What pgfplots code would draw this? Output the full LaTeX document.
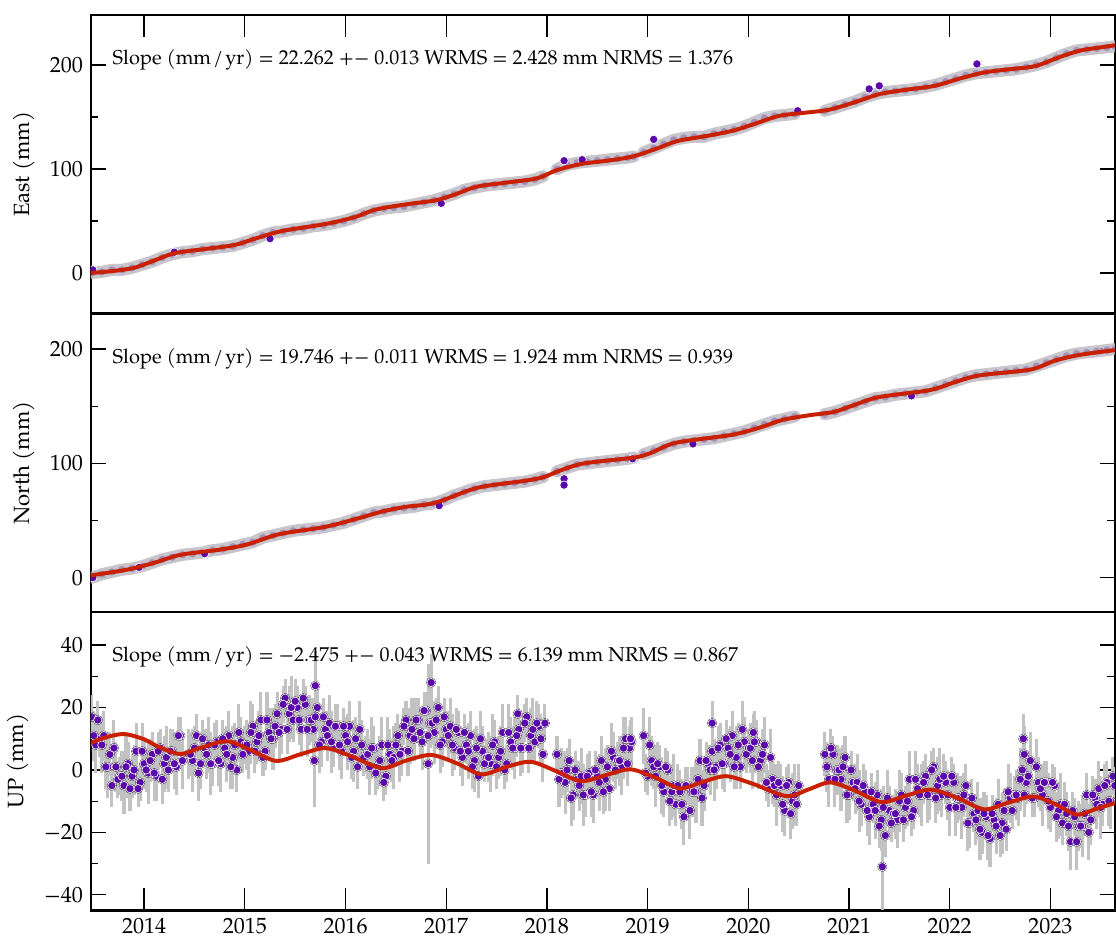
\documentclass[border=0pt]{standalone}
\usepackage{fontspec}
\setmainfont{TeX Gyre Pagella}
\usepackage{pgfplots}
\usepackage{pgfplotstable}
\pgfplotsset{compat=1.18}
\usepgfplotslibrary{groupplots}

\definecolor{dotpurple}{RGB}{90,8,170}
\definecolor{modelred}{RGB}{200,32,0}
\definecolor{barsgray}{RGB}{194,194,194}
\definecolor{bandgray}{RGB}{184,182,190}

% East series (t, mm), nan = data gap
\pgfplotstableread{
t v
2013.48 0
2013.58 1
2013.68 3
2013.78 3
2013.88 5
2013.98 8
2014.08 11
2014.18 15
2014.28 18
2014.38 20
2014.48 21
2014.58 23
2014.68 24
2014.78 25
2014.88 26
2014.98 29
2015.08 32
2015.18 36
2015.28 39
2015.38 40
2015.48 42
2015.58 43
2015.68 45
2015.78 46
2015.88 48
2015.98 50
2016.08 53
2016.18 57
2016.28 60
2016.38 62
2016.48 63
2016.58 64
2016.68 66
2016.78 68
2016.88 70
2016.98 73
2017.08 76
2017.18 80
2017.28 82
2017.38 84
2017.48 85
2017.58 86
2017.68 87
2017.78 88
2017.88 90
2017.96 93
2018.03 nan
2018.10 100
2018.20 104
2018.30 106
2018.40 107
2018.50 108
2018.60 109
2018.70 110
2018.80 111
2018.86 112
2018.91 nan
2018.96 116
2019.06 120
2019.16 124
2019.26 128
2019.36 130
2019.46 131
2019.56 131
2019.66 134
2019.76 136
2019.86 138
2019.96 141
2020.06 145
2020.16 149
2020.26 151
2020.36 152
2020.46 153
2020.60 nan
2020.76 156
2020.86 159
2020.96 162
2021.06 165
2021.16 169
2021.26 172
2021.36 174
2021.46 175
2021.56 176
2021.66 177
2021.76 179
2021.86 181
2021.96 184
2022.06 187
2022.16 190
2022.26 192
2022.36 193
2022.46 194
2022.56 195
2022.66 196
2022.76 198
2022.86 200
2022.96 203
2023.06 207
2023.16 211
2023.26 214
2023.36 215
2023.46 216
2023.56 217
2023.64 218
}\eastdata

% North series
\pgfplotstableread{
t v
2013.48 0
2013.58 3
2013.68 5
2013.78 7
2013.88 8
2013.98 10
2014.08 13
2014.18 16
2014.28 18
2014.38 20
2014.48 21
2014.58 22
2014.68 24
2014.78 25
2014.88 27
2014.98 29
2015.08 31
2015.18 35
2015.28 37
2015.38 39
2015.48 41
2015.58 42
2015.68 43
2015.78 44
2015.88 46
2015.98 48
2016.08 51
2016.18 54
2016.28 57
2016.38 58
2016.48 60
2016.58 61
2016.68 62
2016.78 64
2016.88 65
2016.98 68
2017.08 72
2017.18 75
2017.28 78
2017.38 80
2017.48 81
2017.58 82
2017.68 83
2017.78 84
2017.88 86
2017.96 88
2018.03 nan
2018.10 93
2018.20 96
2018.30 99
2018.40 100
2018.50 101
2018.60 102
2018.70 103
2018.80 104
2018.86 105
2018.91 nan
2018.96 108
2019.06 111
2019.16 114
2019.26 117
2019.36 119
2019.46 120
2019.56 121
2019.66 122
2019.76 124
2019.86 126
2019.96 128
2020.06 131
2020.16 134
2020.26 137
2020.36 139
2020.46 141
2020.60 nan
2020.76 143
2020.86 145
2020.96 148
2021.06 151
2021.16 154
2021.26 157
2021.36 158
2021.46 160
2021.56 161
2021.66 162
2021.76 163
2021.86 166
2021.96 169
2022.06 172
2022.16 175
2022.26 177
2022.36 178
2022.46 179
2022.56 180
2022.66 181
2022.76 182
2022.86 185
2022.96 188
2023.06 191
2023.16 194
2023.26 196
2023.36 197
2023.46 198
2023.56 199
2023.64 200
}\northdata

% Up series: time, value, error
\pgfplotstableread{
t u e
2013.48 17 7
2013.52 8 9
2013.56 10 6
2013.60 11 8
2013.64 1 10
2013.68 -5 7
2013.72 1 8
2013.76 -2 6
2013.80 -5 9
2013.84 2 7
2013.88 -2 7
2013.92 6 9
2013.96 -4 6
2014.00 2 8
2014.04 -1 10
2014.08 5 7
2014.12 -2 8
2014.16 7 6
2014.20 2 9
2014.24 0 7
2014.28 6 7
2014.32 1 9
2014.36 11 6
2014.44 5 8
2014.48 3 10
2014.52 11 7
2014.56 2 8
2014.60 7 6
2014.64 8 9
2014.68 2 7
2014.72 9 7
2014.76 2 9
2014.80 7 6
2014.84 11 8
2014.88 4 10
2014.92 0 7
2014.96 9 8
2015.00 8 6
2015.04 6 9
2015.08 14 7
2015.12 9 7
2015.16 16 9
2015.20 6 6
2015.24 12 8
2015.28 10 10
2015.32 18 7
2015.36 13 8
2015.40 23 6
2015.44 18 9
2015.48 16 7
2015.52 20 7
2015.56 13 9
2015.60 21 6
2015.64 16 8
2015.68 13 10
2015.72 20 7
2015.76 9 8
2015.80 13 6
2015.84 15 9
2015.88 8 7
2015.92 14 7
2015.96 6 9
2016.00 11 6
2016.04 14 8
2016.08 6 10
2016.12 1 7
2016.16 8 8
2016.20 5 6
2016.24 1 9
2016.28 7 7
2016.32 1 7
2016.36 8 9
2016.40 -2 6
2016.44 5 8
2016.48 4 10
2016.52 11 7
2016.56 6 8
2016.60 16 6
2016.64 11 9
2016.68 10 7
2016.72 16 7
2016.76 9 9
2016.80 19 6
2016.84 15 8
2016.88 12 10
2016.92 20 7
2016.96 9 8
2017.00 13 6
2017.04 14 9
2017.08 7 7
2017.12 12 7
2017.16 4 9
2017.20 8 6
2017.24 11 8
2017.28 3 10
2017.32 -2 7
2017.36 6 8
2017.40 4 6
2017.44 2 9
2017.48 9 7
2017.52 4 7
2017.56 12 9
2017.60 2 6
2017.64 9 8
2017.68 7 10
2017.72 13 7
2017.76 7 8
2017.80 17 6
2017.84 11 9
2017.88 9 7
2017.92 14 7
2017.96 5 9
2018.10 5 6
2018.14 -1 8
2018.18 -4 10
2018.22 3 7
2018.26 -8 8
2018.30 -3 6
2018.34 -2 9
2018.38 -8 7
2018.42 -1 7
2018.46 -8 9
2018.50 -2 6
2018.54 3 8
2018.58 -3 10
2018.62 -6 7
2018.66 4 8
2018.70 3 6
2018.74 1 9
2018.78 10 7
2018.82 7 7
2018.96 11 9
2019.00 -2 6
2019.04 3 8
2019.08 -2 10
2019.12 1 7
2019.16 -7 8
2019.20 0 6
2019.24 -7 9
2019.28 -11 7
2019.32 -7 7
2019.36 -15 9
2019.40 -5 6
2019.44 -7 8
2019.48 -7 10
2019.52 3 7
2019.56 -5 8
2019.60 2 6
2019.64 6 9
2019.68 1 7
2019.72 8 7
2019.76 2 9
2019.80 7 6
2019.84 11 8
2019.88 4 10
2019.92 1 7
2019.96 9 8
2020.00 7 6
2020.04 3 9
2020.08 9 7
2020.12 3 7
2020.16 8 9
2020.20 -6 6
2020.24 -3 8
2020.28 -8 10
2020.32 -5 7
2020.36 -13 8
2020.40 -4 6
2020.44 -10 9
2020.48 -11 7
2020.76 5 7
2020.80 -3 9
2020.84 5 6
2020.88 0 8
2020.92 -3 10
2020.96 4 7
2021.00 -8 8
2021.04 -4 6
2021.08 -4 9
2021.12 -11 7
2021.16 -7 7
2021.20 -15 9
2021.24 -11 6
2021.28 -8 8
2021.32 -16 10
2021.36 -21 7
2021.40 -13 8
2021.44 -14 6
2021.48 -16 9
2021.52 -8 7
2021.56 -12 7
2021.60 -3 9
2021.64 -13 6
2021.68 -6 8
2021.72 -8 10
2021.76 -2 7
2021.80 -8 8
2021.84 1 6
2021.88 -5 9
2021.92 -8 7
2021.96 -4 7
2022.00 -12 9
2022.04 -4 6
2022.08 -9 8
2022.12 -12 10
2022.16 -5 7
2022.20 -17 8
2022.24 -14 6
2022.28 -13 9
2022.32 -20 7
2022.36 -15 7
2022.40 -22 9
2022.44 -16 6
2022.48 -11 8
2022.52 -17 10
2022.56 -19 7
2022.60 -9 8
2022.64 -8 6
2022.68 -9 9
2022.72 0 7
2022.76 -4 7
2022.80 3 9
2022.84 -9 6
2022.88 -4 8
2022.92 -8 10
2022.96 -4 7
2023.00 -12 8
2023.04 -5 6
2023.08 -13 9
2023.12 -17 7
2023.16 -14 7
2023.20 -23 9
2023.24 -15 6
2023.28 -18 8
2023.32 -18 10
2023.36 -8 7
2023.40 -16 8
2023.44 -9 6
2023.48 -6 9
2023.52 -11 7
2023.56 -4 7
2023.60 -10 9
2023.64 -5 6
2013.50 11 8
2013.54 16 6
2013.58 8 9
2013.62 1 7
2013.66 5 7
2013.70 7 9
2013.74 -3 6
2013.78 -2 8
2013.82 1 10
2013.86 -6 7
2013.90 0 8
2013.94 -6 6
2013.98 6 9
2014.02 0 7
2014.06 3 7
2014.10 -1 9
2014.14 6 6
2014.18 -3 8
2014.22 4 10
2014.26 6 7
2014.30 2 8
2014.34 11 6
2014.38 3 9
2014.46 5 7
2014.50 7 7
2014.54 -1 9
2014.58 10 6
2014.62 5 8
2014.66 2 10
2014.70 8 7
2014.74 3 8
2014.78 10 6
2014.82 5 9
2014.86 1 7
2014.90 8 7
2014.94 12 9
2014.98 5 6
2015.02 8 8
2015.06 12 10
2015.10 6 7
2015.14 11 8
2015.18 4 6
2015.22 16 9
2015.26 10 7
2015.30 14 7
2015.34 12 9
2015.38 21 6
2015.42 13 8
2015.46 20 10
2015.50 22 7
2015.54 16 8
2015.58 23 6
2015.62 13 9
2015.66 16 7
2015.70 17 7
2015.74 8 9
2015.78 17 6
2015.82 11 8
2015.86 9 10
2015.90 14 7
2015.94 8 8
2015.98 14 6
2016.02 9 9
2016.06 4 7
2016.10 10 7
2016.14 13 9
2016.18 4 6
2016.22 5 8
2016.26 7 10
2016.30 -1 7
2016.34 3 8
2016.38 -4 6
2016.42 8 9
2016.46 3 7
2016.50 8 7
2016.54 5 9
2016.58 14 6
2016.62 6 8
2016.66 13 10
2016.70 16 7
2016.74 12 8
2016.78 19 6
2016.82 11 9
2016.86 15 7
2016.90 16 7
2016.94 8 9
2016.98 17 6
2017.02 11 8
2017.06 8 10
2017.10 13 7
2017.14 6 8
2017.18 12 6
2017.22 6 9
2017.26 1 7
2017.30 7 7
2017.34 10 9
2017.38 2 6
2017.42 4 8
2017.46 8 10
2017.50 1 7
2017.54 6 8
2017.58 0 6
2017.62 12 9
2017.66 7 7
2017.70 11 7
2017.74 7 9
2017.78 15 6
2017.82 7 8
2017.86 13 10
2017.90 15 7
2017.94 10 8
2017.98 15 6
2018.12 -3 9
2018.16 -1 7
2018.20 0 7
2018.24 -9 9
2018.28 0 6
2018.32 -5 8
2018.36 -8 10
2018.40 -2 7
2018.44 -7 8
2018.48 0 6
2018.52 -4 9
2018.56 -7 7
2018.60 1 7
2018.64 6 9
2018.68 0 6
2018.72 3 8
2018.76 7 10
2018.80 2 7
2018.84 9 8
2018.98 -1 6
2019.02 8 9
2019.06 1 7
2019.10 2 7
2019.14 -5 9
2019.18 1 6
2019.22 -10 8
2019.26 -5 10
2019.30 -5 7
2019.34 -11 8
2019.38 -5 6
2019.42 -13 9
2019.46 -7 7
2019.50 -3 7
2019.54 -9 9
2019.58 3 6
2019.62 0 8
2019.66 0 10
2019.70 7 7
2019.74 2 8
2019.78 10 6
2019.82 5 9
2019.86 1 7
2019.90 8 7
2019.94 13 9
2019.98 5 6
2020.02 7 8
2020.06 9 10
2020.10 1 7
2020.14 5 8
2020.18 -4 6
2020.22 4 9
2020.26 -5 7
2020.30 -4 7
2020.34 -11 9
2020.38 -5 6
2020.42 -14 8
2020.46 -8 10
2020.50 -5 7
2020.78 1 8
2020.82 7 6
2020.86 -3 9
2020.90 0 7
2020.94 1 7
2020.98 -8 9
2021.02 0 6
2021.06 -6 8
2021.10 -10 10
2021.14 -5 7
2021.18 -13 8
2021.22 -7 6
2021.26 -13 9
2021.30 -18 7
2021.34 -12 7
2021.38 -9 9
2021.42 -17 6
2021.46 -14 8
2021.50 -10 10
2021.54 -16 7
2021.58 -10 8
2021.62 -15 6
2021.66 -3 9
2021.70 -8 7
2021.74 -4 7
2021.78 -8 9
2021.82 0 6
2021.86 -9 8
2021.90 -3 10
2021.94 -2 7
2021.98 -8 8
2022.02 -2 6
2022.06 -12 9
2022.10 -9 7
2022.14 -8 7
2022.18 -17 9
2022.22 -9 6
2022.26 -16 8
2022.30 -19 10
2022.34 -14 7
2022.38 -21 8
2022.42 -14 6
2022.46 -18 9
2022.50 -21 7
2022.54 -13 7
2022.58 -7 9
2022.62 -13 6
2022.66 -8 8
2022.70 -3 10
2022.74 -8 7
2022.78 -2 8
2022.82 -9 6
2022.86 1 9
2022.90 -6 7
2022.94 -4 7
2022.98 -10 9
2023.02 -4 6
2023.06 -15 8
2023.10 -11 10
2023.14 -11 7
2023.18 -18 8
2023.22 -13 6
2023.26 -23 9
2023.30 -18 7
2023.34 -14 7
2023.38 -20 9
2023.42 -8 6
2023.46 -11 8
2023.50 -12 10
2023.54 -5 7
2023.58 -10 8
2023.62 -2 6
2015.70 27 11
2015.69 3 15
2016.85 28 9
2016.82 2 32
2017.71 18 6
2019.64 15 7
2021.33 -31 14
2022.73 10 8
2022.74 5 9
2018.83 10 6
2020.05 12 6
}\updata

\pgfplotsset{
  gps/.style={
    width=465pt, height=135.5pt, scale only axis,
    xmin=2013.47, xmax=2023.64,
    xtick={2014,2015,...,2023},
    minor x tick num=0,
    tick align=inside,
    major tick length=10pt, minor tick length=3.5pt,
    ytick pos=both,
    axis line style={line width=1pt},
    tick style={line width=0.6pt, black},
    y tick style={dash pattern=on 6.8pt off 30pt},
    xticklabel={\pgfmathtruncatemacro\tmpv{round(\tick)}\tmpv},
    yticklabel={\pgfmathtruncatemacro\tmpv{round(\tick)}\ifnum\tmpv<0 −\pgfmathtruncatemacro\tmpw{-\tmpv}\tmpw\else\tmpv\fi},
    unbounded coords=jump,
    clip marker paths=true,
  },
  dots/.style={only marks, mark=*, mark size=1.9pt,
    mark options={fill=dotpurple, draw=white, line width=0.3pt}},
  band/.style={bandgray, line width=5.5pt, opacity=0.78, line join=round, line cap=round},
  model/.style={modelred, line width=1.8pt, smooth, mark=none},
}
\tikzset{note/.style={anchor=north west, inner sep=0pt, font=\fontsize{9.1}{11}\selectfont}}

\begin{document}
\begin{tikzpicture}
\begin{groupplot}[group style={group size=1 by 3, vertical sep=0pt}, gps]

\nextgroupplot[ymin=-39, ymax=248, ytick={0,100,200}, minor ytick={50,150},
  xtick pos=right, xticklabels={}, ylabel={East (mm)}]
\addplot[dots] table[x=t, y=v] {\eastdata};
\addplot[band] table[x=t, y=v] {\eastdata};
\addplot[dots] coordinates {(2013.49,3) (2014.30,20) (2015.25,33) (2016.95,67) (2018.17,108) (2018.35,109) (2019.06,128.5) (2020.49,156) (2021.20,177) (2021.30,180) (2022.27,201)};
\addplot[model] coordinates {
(2013.47,0) (2013.7,2) (2013.9,5) (2014.1,12) (2014.3,19) (2014.6,23) (2014.9,27)
(2015.1,33) (2015.35,40) (2015.6,44) (2015.85,48) (2016.1,54) (2016.3,61) (2016.6,66)
(2016.9,70) (2017.1,76) (2017.3,83) (2017.6,87) (2017.9,91) (2018.1,99) (2018.35,105)
(2018.6,108) (2018.85,112) (2019.1,120) (2019.3,127) (2019.6,132) (2019.85,137)
(2020.05,143) (2020.3,151) (2020.55,154) (2020.8,157) (2021.05,164) (2021.3,172)
(2021.55,176) (2021.85,180) (2022.1,187) (2022.35,193) (2022.6,196) (2022.85,199)
(2023.1,208) (2023.3,214) (2023.5,217) (2023.64,219)};
\node[note] at (rel axis cs:0.021,0.885)
  {Slope (mm\kern1pt/\kern1pt yr) = 22.262 +− 0.013 WRMS = 2.428 mm NRMS = 1.376};

\nextgroupplot[ymin=-30, ymax=231, ytick={0,100,200}, minor ytick={50,150},
  xtick=\empty, ylabel={North (mm)}]
\addplot[dots] table[x=t, y=v] {\northdata};
\addplot[band] table[x=t, y=v] {\northdata};
\addplot[dots] coordinates {(2013.49,0) (2013.95,9) (2014.6,21) (2016.93,63) (2018.17,86.5) (2018.17,81) (2018.85,104) (2019.45,117) (2021.62,159)};
\addplot[model] coordinates {
(2013.47,2) (2013.83,7) (2014.1,13) (2014.36,20) (2014.75,24.5) (2015.02,29) (2015.34,38)
(2015.8,44.5) (2016.13,52) (2016.37,58) (2016.6,62) (2016.89,65.5) (2017.31,78.6)
(2017.78,84.7) (2017.97,88) (2018.14,94) (2018.37,100) (2018.86,105) (2019.03,109)
(2019.28,118) (2019.84,125) (2020.14,132) (2020.34,138) (2020.6,142) (2020.85,145)
(2021.05,151) (2021.3,158) (2021.8,164) (2022.05,171) (2022.3,177) (2022.8,182)
(2023.05,190) (2023.3,195) (2023.64,199)};
\node[note] at (rel axis cs:0.021,0.885)
  {Slope (mm\kern1pt/\kern1pt yr) = 19.746 +− 0.011 WRMS = 1.924 mm NRMS = 0.939};

\nextgroupplot[ymin=-45, ymax=50.6, ytick={-40,-20,0,20,40}, minor ytick={-30,-10,10,30},
  xtick pos=left, ylabel={UP (mm)}]
\addplot[only marks, mark=none, error bars/.cd, y dir=both, y explicit, error mark=none,
  error bar style={draw=barsgray, line width=1.4pt}] table[x=t, y=u, y error=e] {\updata};
\addplot[dots] table[x=t, y=u] {\updata};
\addplot[model] coordinates {
(2013.47,8.6) (2013.6,10.3) (2013.8,11.5) (2014.0,9.8) (2014.15,7.3) (2014.36,5.1)
(2014.55,7.0) (2014.82,9.2) (2015.05,6.5) (2015.31,2.9) (2015.55,5.0) (2015.80,7.0)
(2016.05,4.5) (2016.36,0.6) (2016.6,3.0) (2016.85,4.8) (2017.1,2.2) (2017.35,-1.4)
(2017.6,1.0) (2017.84,2.6) (2018.1,-0.5) (2018.34,-3.6) (2018.6,-1.5) (2018.83,0.2)
(2019.08,-2.5) (2019.32,-5.9) (2019.55,-3.8) (2019.78,-2.0) (2020.05,-4.5) (2020.38,-8.4)
(2020.6,-6.2) (2020.81,-4.0) (2021.05,-6.5) (2021.32,-10.3) (2021.56,-8.3) (2021.81,-6.3)
(2022.08,-9.0) (2022.34,-12.6) (2022.58,-10.5) (2022.83,-8.5) (2023.05,-11.0)
(2023.26,-14.3) (2023.45,-12.5) (2023.64,-10.6)};
\node[note] at (rel axis cs:0.021,0.885)
  {Slope (mm\kern1pt/\kern1pt yr) = −2.475 +− 0.043 WRMS = 6.139 mm NRMS = 0.867};

\end{groupplot}
\end{tikzpicture}
\end{document}
